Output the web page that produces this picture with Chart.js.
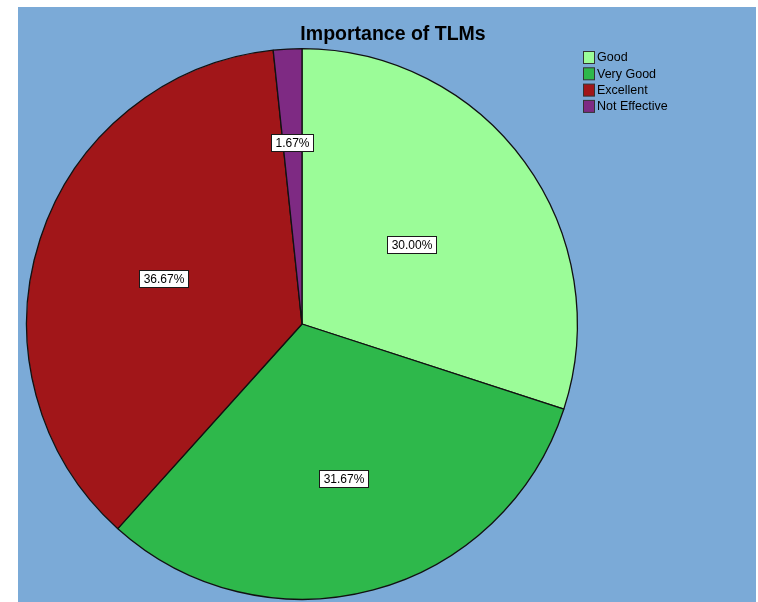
<!DOCTYPE html>
<html>
<head>
<meta charset="utf-8">
<script src="https://cdn.jsdelivr.net/npm/chart.js@4.4.1/dist/chart.umd.min.js"></script>
<style>
  html, body { margin: 0; padding: 0; background: #ffffff; }
  #frame { position: absolute; left: 18px; top: 7px; width: 738px; height: 595px; background: #7baad7; }
  #frame canvas { display: block; }
</style>
</head>
<body>
<div id="frame"><canvas id="tlmChart" width="738" height="595"></canvas></div>
<script>
const chartTitle = 'Importance of TLMs';
const categories = ['Good', 'Very Good', 'Excellent', 'Not Effective'];
const percentages = [30.00, 31.67, 36.67, 1.67];
const sliceColors = ['#9bfc98', '#2eb84b', '#a11619', '#7e2a83'];
// how far out along the radius each percentage box sits
const labelRadius = [0.49, 0.58, 0.53, 0.66];

const font = "'Liberation Sans', Arial, sans-serif";

const decorPlugin = {
  id: 'decor',
  afterDraw(chart) {
    const ctx = chart.ctx;
    const meta = chart.getDatasetMeta(0);
    ctx.save();

    // title
    ctx.fillStyle = '#000000';
    ctx.font = 'bold 19.5px ' + font;
    ctx.textAlign = 'center';
    ctx.textBaseline = 'middle';
    ctx.fillText(chartTitle, 375, 28);

    // percentage boxes
    ctx.font = '12px ' + font;
    meta.data.forEach((arc, i) => {
      const p = arc.getProps(['x', 'y', 'startAngle', 'endAngle', 'outerRadius'], true);
      const mid = (p.startAngle + p.endAngle) / 2;
      const r = p.outerRadius * labelRadius[i];
      const x = p.x + Math.cos(mid) * r;
      const y = p.y + Math.sin(mid) * r;
      const text = percentages[i].toFixed(2) + '%';
      const w = Math.round(ctx.measureText(text).width) + 8;
      const h = 17;
      const bx = Math.round(x - w / 2) + 0.5;
      const by = Math.round(y - h / 2) + 0.5;
      ctx.fillStyle = '#ffffff';
      ctx.fillRect(bx, by, w, h);
      ctx.strokeStyle = '#1a1a1a';
      ctx.lineWidth = 1;
      ctx.strokeRect(bx, by, w, h);
      ctx.fillStyle = '#000000';
      ctx.textAlign = 'center';
      ctx.fillText(text, bx + w / 2, by + h / 2 + 0.5);
    });

    // legend
    ctx.font = '12.5px ' + font;
    ctx.textAlign = 'left';
    categories.forEach((name, i) => {
      const y = 50 + i * 16.3;
      ctx.fillStyle = sliceColors[i];
      ctx.fillRect(565.5, y - 5.5, 11, 12);
      ctx.strokeStyle = '#333333';
      ctx.strokeRect(565.5, y - 5.5, 11, 12);
      ctx.fillStyle = '#000000';
      ctx.fillText(name, 579, y + 1);
    });
    ctx.restore();
  }
};

new Chart(document.getElementById('tlmChart'), {
  type: 'pie',
  data: {
    labels: categories,
    datasets: [{
      data: percentages,
      backgroundColor: sliceColors,
      borderColor: '#111111',
      borderWidth: 1.3
    }]
  },
  options: {
    responsive: false,
    animation: false,
    layout: { padding: { left: 8, right: 178, top: 41, bottom: 2 } },
    plugins: {
      legend: { display: false },
      tooltip: { enabled: false },
      title: { display: false }
    }
  },
  plugins: [decorPlugin]
});
</script>
</body>
</html>
